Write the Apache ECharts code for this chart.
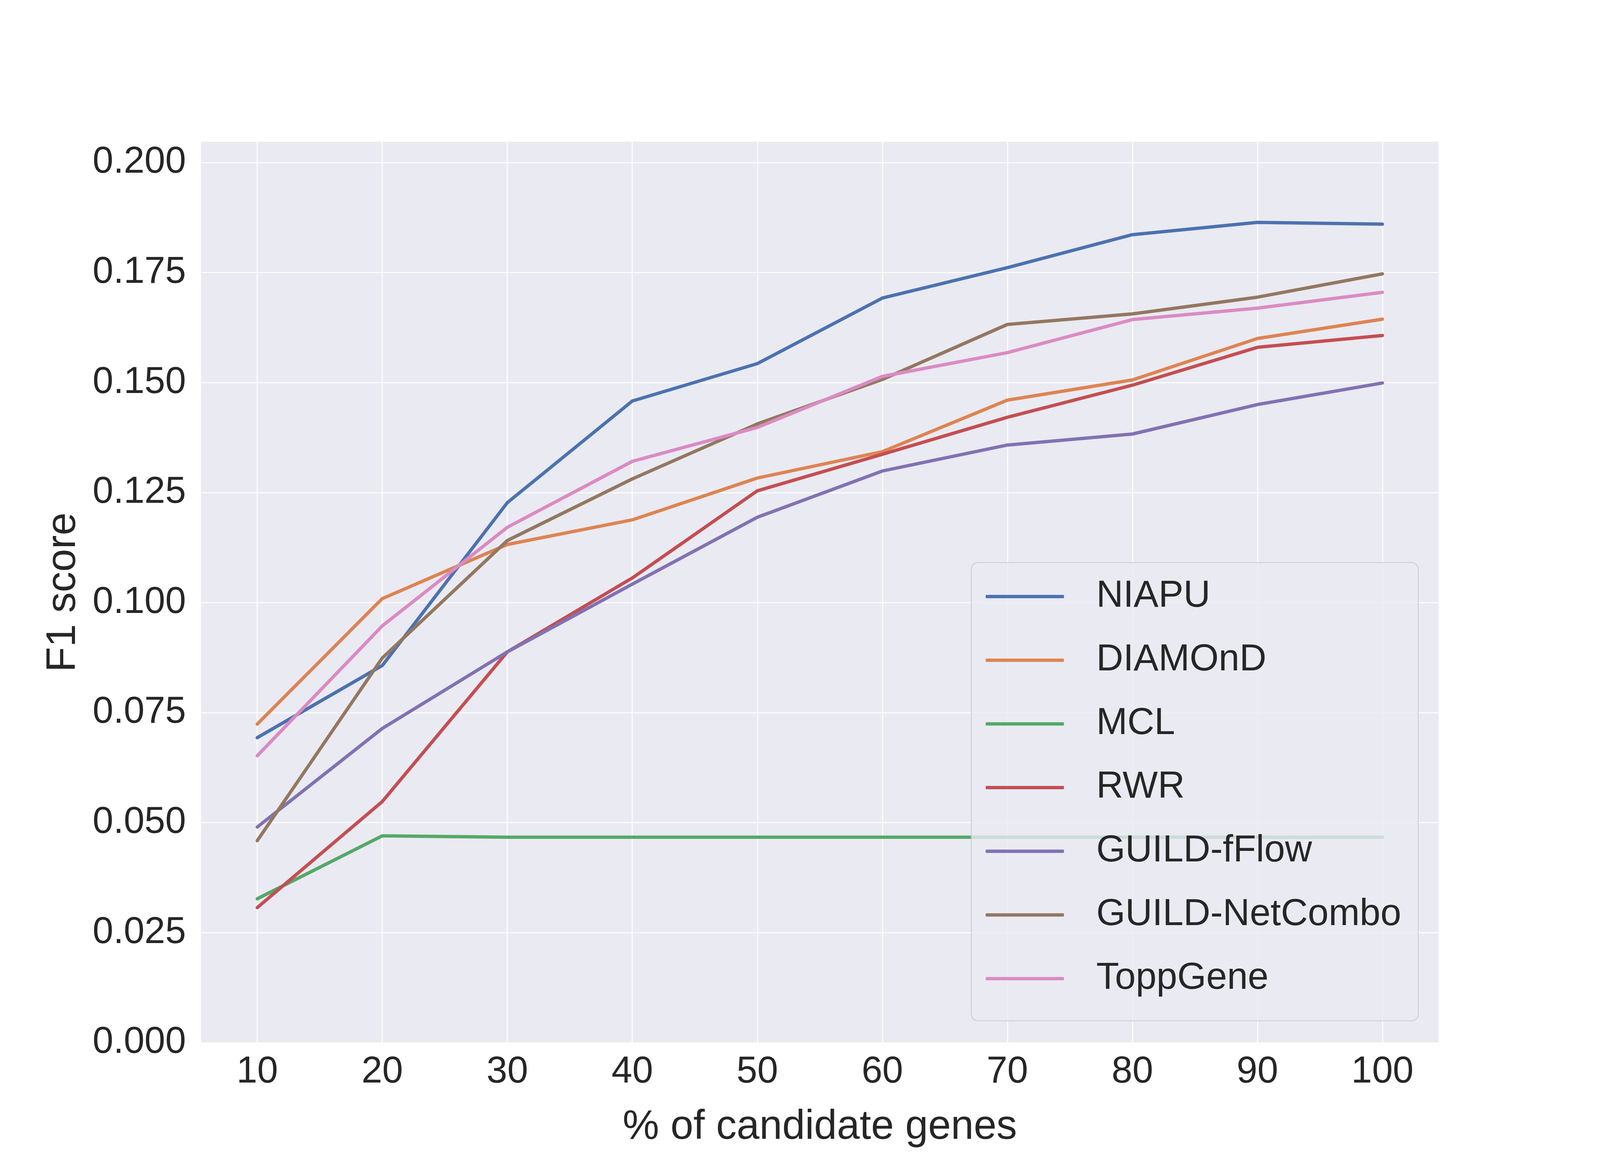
<!DOCTYPE html>
<html>
<head>
<meta charset="utf-8">
<script src="https://cdn.jsdelivr.net/npm/echarts@6/dist/echarts.min.js"></script>
<style>
  html, body { margin: 0; padding: 0; background: #fff; overflow: hidden; }
  #chart { width: 100vw; height: 100vh; }
</style>
</head>
<body>
<div id="chart"></div>
<script>
// percent of candidate genes
var xValues = [10, 20, 30, 40, 50, 60, 70, 80, 90, 100];
var yTicks = [0, 0.025, 0.05, 0.075, 0.1, 0.125, 0.15, 0.175, 0.2];

var methodNames = ['NIAPU', 'DIAMOnD', 'MCL', 'RWR', 'GUILD-fFlow', 'GUILD-NetCombo', 'ToppGene'];

var niapu = [0.0693, 0.0857, 0.1227, 0.1458, 0.1543, 0.1692, 0.1761, 0.1836, 0.1864, 0.1860];
var diamond = [0.0724, 0.1009, 0.1132, 0.1188, 0.1283, 0.1343, 0.1460, 0.1506, 0.1600, 0.1644];
var mcl = [0.0327, 0.0470, 0.0467, 0.0467, 0.0467, 0.0467, 0.0467, 0.0467, 0.0467, 0.0467];
var rwr = [0.0307, 0.0548, 0.0888, 0.1056, 0.1254, 0.1337, 0.1421, 0.1494, 0.1580, 0.1607];
var guildFFlow = [0.0490, 0.0714, 0.0888, 0.1042, 0.1194, 0.1299, 0.1358, 0.1383, 0.1450, 0.1499];
var guildNetCombo = [0.0459, 0.0874, 0.1141, 0.1281, 0.1406, 0.1507, 0.1632, 0.1656, 0.1694, 0.1747];
var toppGene = [0.0652, 0.0947, 0.1171, 0.1321, 0.1398, 0.1514, 0.1568, 0.1643, 0.1669, 0.1705];

var seriesValues = [niapu, diamond, mcl, rwr, guildFFlow, guildNetCombo, toppGene];
// seaborn "deep" palette
var colors = ['#4C72B0', '#DD8452', '#55A868', '#C44E52', '#8172B3', '#937860', '#DA8BC3'];

var textColor = '#262626';
var fontFamily = '"Liberation Sans", Arial, sans-serif';

var chartDom = document.getElementById('chart');
var myChart = echarts.init(chartDom);

function buildOption() {
    // layout was measured on a 4800x3000 picture, scale to the real page
    var sx = chartDom.clientWidth / 4800;
    var sy = chartDom.clientHeight / 3000;
    var sf = sx; // text size follows the width so labels keep their room

    var series = methodNames.map(function (name, i) {
        return {
            name: name,
            type: 'line',
            symbol: 'none',
            data: xValues.map(function (x, j) { return [x, seriesValues[i][j]]; }),
            lineStyle: { color: colors[i], width: 10 * sf, cap: 'round', join: 'round' },
            itemStyle: { color: colors[i] }
        };
    });

    return {
        animation: false,
        backgroundColor: '#ffffff',
        textStyle: { fontFamily: fontFamily, color: textColor },
        grid: {
            left: 603 * sx,
            right: 484 * sx,
            top: 363 * sy,
            bottom: 331 * sy,
            show: true,
            backgroundColor: '#EAEAF2',
            borderWidth: 0
        },
        legend: {
            orient: 'vertical',
            left: 2914 * sx,
            top: 1440 * sy,
            padding: [27 * sy, 51 * sx, 48 * sy, 43 * sx],
            icon: 'roundRect',
            itemWidth: 235 * sx,
            itemHeight: 10 * sf,
            itemGap: 43 * sy,
            backgroundColor: 'rgba(234,234,242,0.8)',
            borderColor: 'rgba(204,204,204,0.8)',
            borderWidth: 3 * sf,
            borderRadius: 20 * sf,
            textStyle: {
                fontFamily: fontFamily,
                fontSize: 112 * sf,
                color: textColor,
                lineHeight: 120 * sy,
                padding: [0, 0, 0, 91 * sx]
            },
            data: methodNames
        },
        xAxis: {
            type: 'value',
            min: 5.5,
            max: 104.5,
            name: '% of candidate genes',
            nameLocation: 'middle',
            nameGap: 165 * sy,
            nameTextStyle: { fontFamily: fontFamily, fontSize: 123 * sf, color: textColor },
            axisLine: { show: false },
            axisTick: { show: false, customValues: xValues },
            axisLabel: {
                customValues: xValues,
                fontFamily: fontFamily,
                fontSize: 112 * sf,
                color: textColor,
                margin: 28 * sy
            },
            splitLine: { show: true, lineStyle: { color: '#ffffff', width: 3 * sf } }
        },
        yAxis: {
            type: 'value',
            min: 0,
            max: 0.2047,
            name: 'F1 score',
            nameLocation: 'middle',
            nameGap: 350 * sx,
            nameTextStyle: { fontFamily: fontFamily, fontSize: 123 * sf, color: textColor },
            axisLine: { show: false },
            axisTick: { show: false, customValues: yTicks },
            axisLabel: {
                customValues: yTicks,
                fontFamily: fontFamily,
                fontSize: 112 * sf,
                color: textColor,
                margin: 45 * sx,
                formatter: function (v) { return v.toFixed(3); }
            },
            splitLine: { show: true, lineStyle: { color: '#ffffff', width: 3 * sf } }
        },
        series: series
    };
}

myChart.setOption(buildOption());
window.addEventListener('resize', function () {
    myChart.resize();
    myChart.setOption(buildOption());
});
</script>
</body>
</html>
